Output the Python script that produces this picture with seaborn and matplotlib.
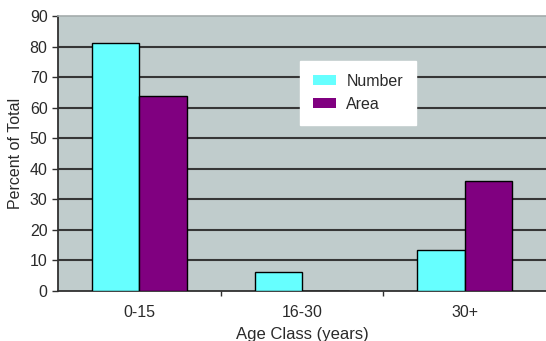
import matplotlib
matplotlib.use("Agg")
import matplotlib.pyplot as plt
import seaborn as sns
import pandas as pd

# Share of total by age class
age_classes = ["0-15", "16-30", "30+"]
series_names = ["Number", "Area"]
number_pct = [81.2, 6.2, 13.4]
area_pct = [63.8, 0.0, 36.0]
y_ticks = [0, 10, 20, 30, 40, 50, 60, 70, 80, 90]

df = pd.DataFrame({
    "Age Class": age_classes + age_classes,
    "Series": [series_names[0]] * len(age_classes) + [series_names[1]] * len(age_classes),
    "Percent": number_pct + area_pct,
})

sns.set_theme(style="white")
plt.rcParams["font.family"] = ["Liberation Sans", "DejaVu Sans"]
text_col = "#2a2a2a"
plt.rcParams["text.color"] = text_col
plt.rcParams["axes.labelcolor"] = text_col
plt.rcParams["xtick.color"] = text_col
plt.rcParams["ytick.color"] = text_col

fig = plt.figure(figsize=(5.46, 3.41), dpi=100)
fig.patch.set_facecolor("white")
ax = fig.add_axes([58 / 546, 50 / 341, (546 - 58) / 546, 275 / 341])
ax.set_facecolor("#C0CCCC")

sns.barplot(
    data=df, x="Age Class", y="Percent", hue="Series",
    palette=["#66FFFF", "#800080"], saturation=1, width=0.58,
    edgecolor="black", linewidth=1.0, ax=ax, zorder=3,
)

ax.set_xlim(-0.5, 2.5)
ax.set_ylim(0, 90)
ax.set_yticks(y_ticks)

# horizontal gridlines between the bottom and top edges
ax.set_axisbelow(True)
ax.yaxis.grid(True, color="#363636", linewidth=1.5)
ax.xaxis.grid(False)
glines = ax.yaxis.get_gridlines()
glines[0].set_visible(False)
glines[-1].set_visible(False)

for side in ["left", "bottom"]:
    ax.spines[side].set_color("#303030")
    ax.spines[side].set_linewidth(1.3)
ax.spines["top"].set_color("#a4acac")
ax.spines["top"].set_linewidth(1.2)
ax.spines["right"].set_visible(False)

ax.tick_params(axis="y", which="major", direction="out", length=4.5, width=1.0,
               color="#303030", pad=3, labelsize=11.5, left=True)
ax.tick_params(axis="x", which="major", length=0, pad=10, labelsize=11.5, bottom=True)
ax.set_xticks([0.5, 1.5], minor=True)
ax.tick_params(axis="x", which="minor", direction="out", length=3.5, width=1.0,
               color="#303030", bottom=True)

ax.set_xlabel("Age Class (years)", fontsize=12, labelpad=5)
ax.set_ylabel("Percent of Total", fontsize=11.5, labelpad=5)

leg = ax.legend(
    title=None, loc="upper left", bbox_to_anchor=(0.496, 0.836),
    borderaxespad=0, frameon=True, facecolor="white", edgecolor="white",
    fancybox=False, framealpha=1, handlelength=1.45, handleheight=0.55,
    labelspacing=0.5, handletextpad=0.65, borderpad=0.8, fontsize=11.5,
)
for h in leg.legend_handles:
    h.set_edgecolor("none")

fig.savefig("out.png", dpi=100)
